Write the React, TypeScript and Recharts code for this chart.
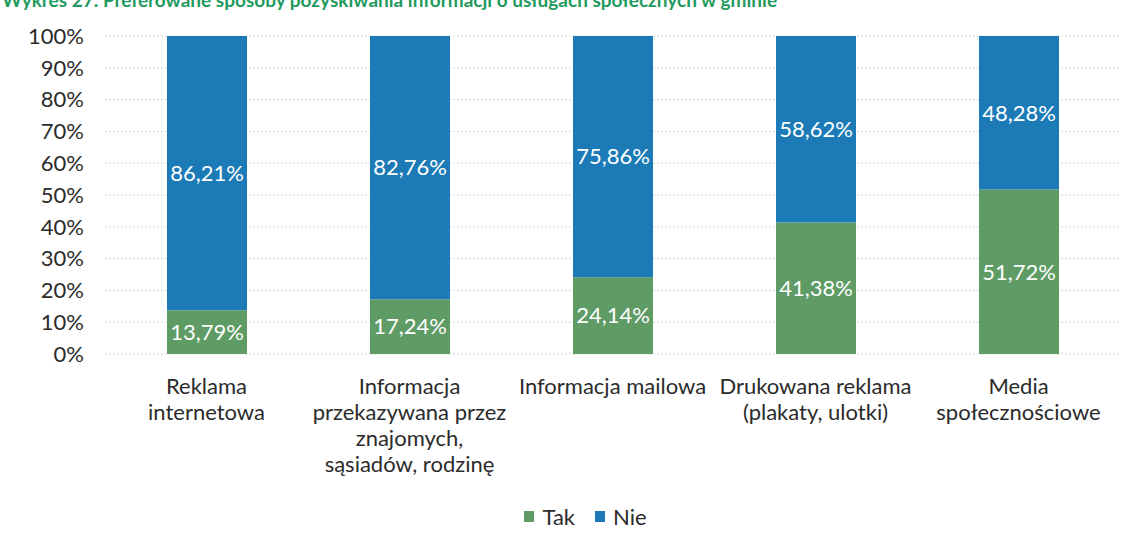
import React from "react";
import { BarChart, Bar, XAxis, YAxis, CartesianGrid, Legend, LabelList } from "recharts";

const categories = [
  "Reklama internetowa",
  "Informacja przekazywana przez znajomych, sąsiadów, rodzinę",
  "Informacja mailowa",
  "Drukowana reklama (plakaty, ulotki)",
  "Media społecznościowe",
];

// how each category label breaks into lines in the original
const categoryLines = [
  ["Reklama", "internetowa"],
  ["Informacja", "przekazywana przez", "znajomych,", "sąsiadów, rodzinę"],
  ["Informacja mailowa"],
  ["Drukowana reklama", "(plakaty, ulotki)"],
  ["Media", "społecznościowe"],
];

const takValues = [13.79, 17.24, 24.14, 41.38, 51.72];
const nieValues = [86.21, 82.76, 75.86, 58.62, 48.28];
const yTicks = [0, 10, 20, 30, 40, 50, 60, 70, 80, 90, 100];

const GREEN = "#5e9b65";
const BLUE = "#1c7bb6";
const FONT = "Lato, 'Open Sans', sans-serif";

const data = categories.map((name, i) => ({ name, tak: takValues[i], nie: nieValues[i] }));

const fmt = (v: any) => Number(v).toFixed(2).replace(".", ",") + "%";

const CategoryTick = (props: any) => {
  const { x, y, index } = props;
  const lines = categoryLines[index] || [];
  return (
    <text x={x} y={y} textAnchor="middle" fill="#2b2b2b" fontSize={22} fontFamily={FONT}>
      {lines.map((l, i) => (
        <tspan key={i} x={x} dy={i === 0 ? 32 : 26}>
          {l}
        </tspan>
      ))}
    </text>
  );
};

const LegendContent = () => (
  <div style={{ display: "flex", justifyContent: "center", gap: 20, paddingLeft: 36, fontFamily: FONT, fontSize: 22, color: "#2b2b2b" }}>
    {[["Tak", GREEN], ["Nie", BLUE]].map(([label, c]) => (
      <div key={label} style={{ display: "flex", alignItems: "center" }}>
        <span style={{ display: "inline-block", width: 10, height: 11, background: c, marginRight: 8 }} />
        {label}
      </div>
    ))}
  </div>
);

export default function App() {
  return (
    <div style={{ position: "absolute", left: 0, top: 0, width: 1135, height: 542, background: "#fff", overflow: "hidden" }}>
      <div
        style={{
          position: "absolute",
          left: 2,
          top: -12,
          fontFamily: FONT,
          fontWeight: 700,
          fontSize: 19,
          color: "#1f9a5e",
          whiteSpace: "nowrap",
        }}
      >
        Wykres 27. Preferowane sposoby pozyskiwania informacji o usługach społecznych w gminie
      </div>
      <BarChart width={1135} height={542} data={data} margin={{ top: 36, right: 15, bottom: 0, left: 0 }}>
        <CartesianGrid vertical={false} stroke="#d6d6d6" strokeDasharray="2 2" />
        <XAxis
          dataKey="name"
          axisLine={false}
          tickLine={false}
          interval={0}
          height={161}
          tick={<CategoryTick />}
        />
        <YAxis
          domain={[0, 100]}
          ticks={yTicks}
          width={105}
          axisLine={false}
          tickLine={false}
          tickSize={0}
          tickMargin={21}
          tickFormatter={(v) => `${v}%`}
          tick={{ fill: "#2b2b2b", fontSize: 22, fontFamily: FONT }}
        />
        <Legend
          verticalAlign="bottom"
          content={<LegendContent />}
          wrapperStyle={{ left: 0, width: 1135, bottom: 12 }}
        />
        <Bar dataKey="tak" name="Tak" stackId="a" fill={GREEN} barSize={80} isAnimationActive={false}>
          <LabelList dataKey="tak" position="center" formatter={fmt} fill="#fff" fontSize={22} fontFamily={FONT} />
        </Bar>
        <Bar dataKey="nie" name="Nie" stackId="a" fill={BLUE} barSize={80} isAnimationActive={false}>
          <LabelList dataKey="nie" position="center" formatter={fmt} fill="#fff" fontSize={22} fontFamily={FONT} />
        </Bar>
      </BarChart>
    </div>
  );
}
